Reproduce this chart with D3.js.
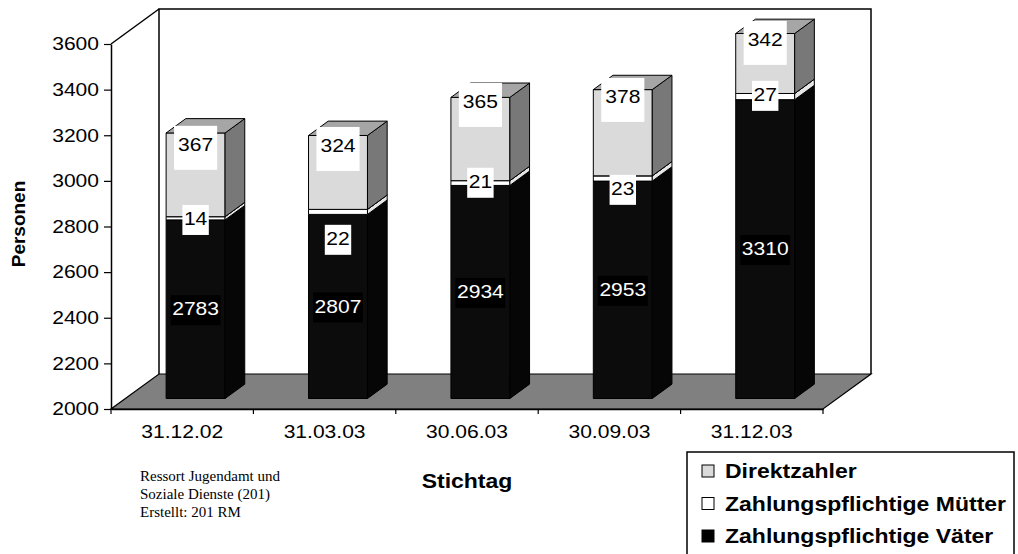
<!DOCTYPE html>
<html><head><meta charset="utf-8">
<script src="https://cdn.jsdelivr.net/npm/d3@7"></script>
<style>body{margin:0;background:#fff} svg{display:block}</style>
</head><body>
<script>
// ---- data ----
const categories = ["31.12.02","31.03.03","30.06.03","30.09.03","31.12.03"];
const vaeter   = [2783, 2807, 2934, 2953, 3310];
const muetter  = [14, 22, 21, 23, 27];
const direkt   = [367, 324, 365, 378, 342];
const yTicks   = [2000,2200,2400,2600,2800,3000,3200,3400,3600];
const seriesNames = ["Direktzahler","Zahlungspflichtige Mütter","Zahlungspflichtige Väter"];
// where Excel placed the small labels (in data units)
const muetterLabelAt = [2787, 2700, 2950, 2919, 3331];
const direktLabelAt  = [3112, 3107, 3300, 3322, 3572];
const sourceLines = ["Ressort Jugendamt und","Soziale Dienste (201)","Erstellt: 201 RM"];

// ---- layout ----
const W = 1018, H = 554;
const DX = 48, DY = -35;       // full depth offset
const D0 = 0.30, D1 = 0.71;    // bar depth range
const SX = 1.17;               // horizontal text stretch
const colors = {
  v: {front:"#0c0c0c", side:"#060606", top:"#333333"},
  m: {front:"#ffffff", side:"#e6e6e6", top:"#ffffff"},
  d: {front:"#dadada", side:"#787878", top:"#a6a6a6"}
};

const svg = d3.select("body").append("svg").attr("width", W).attr("height", H)
  .style("font-family","'Liberation Sans', Arial, sans-serif");

const x = d3.scaleBand().domain(categories).range([111, 823]).padding(0);
const y = d3.scaleLinear().domain([2000, 3600]).range([409, 44]).clamp(true);
const P = (px, v, d) => [px + d*DX, y(v) + d*DY];
const poly = pts => "M" + pts.map(p => p.join(",")).join("L") + "Z";

// back walls
const x0 = 111, x1 = 823, yb = y(2000);
svg.append("path").attr("d", poly([P(x0,2000,1),P(x1,2000,1),P(x1,3600,1),P(x0,3600,1)]))
  .attr("fill","#fff").attr("stroke","none");
svg.append("path").attr("d", "M"+P(x0,2000,1)+"L"+P(x0,3600,1)+"L"+P(x1,3600,1)+"L"+P(x1,2000,1))
  .attr("fill","none").attr("stroke","#000").attr("stroke-width",1.5);
svg.append("path").attr("d", "M"+P(x0,3600,0)+"L"+P(x0,3600,1))
  .attr("fill","none").attr("stroke","#000").attr("stroke-width",1.5);
// floor
svg.append("path").attr("d", poly([P(x0,2000,0),P(x1,2000,0),P(x1,2000,1),P(x0,2000,1)]))
  .attr("fill","#808080").attr("stroke","#000").attr("stroke-width",1.2);

// y axis
const yAxis = svg.append("g").attr("transform", `translate(${x0},0)`)
  .call(d3.axisLeft(y).tickValues(yTicks).tickFormat(d3.format("d"))
        .tickSize(7).tickSizeOuter(0).tickPadding(5));
yAxis.select(".domain").attr("stroke","#000").attr("stroke-width",1.5);
yAxis.selectAll(".tick line").attr("stroke","#000").attr("stroke-width",1.2);
yAxis.selectAll(".tick text").attr("font-size",18).attr("fill","#000")
  .attr("font-family","'Liberation Sans', Arial, sans-serif")
  .attr("x", -12/SX).attr("transform", `scale(${SX},1)`);

// x axis (labels centered, ticks on boundaries)
const xAxis = svg.append("g").attr("transform", `translate(0,${yb})`)
  .call(d3.axisBottom(x).tickSize(0).tickPadding(16));
xAxis.select(".domain").attr("stroke","#000").attr("stroke-width",1.5);
xAxis.selectAll(".tick text").attr("font-size",18).attr("fill","#000")
  .attr("font-family","'Liberation Sans', Arial, sans-serif")
  .attr("transform", `scale(${SX},1)`);
const bounds = categories.map(c => x(c)).concat([x(categories[categories.length-1]) + x.bandwidth()]);
svg.append("g").selectAll("line").data(bounds).join("line")
  .attr("x1", d => d).attr("x2", d => d).attr("y1", yb).attr("y2", yb + 5)
  .attr("stroke","#000").attr("stroke-width",1.2);

// bars
const bw = x.bandwidth() * 0.414;
function drawSeg(g, cx, v0, v1, col) {
  const a = cx - bw/2 - 1, b = cx + bw/2 - 1;
  const front = [P(a,v0,D0),P(b,v0,D0),P(b,v1,D0),P(a,v1,D0)];
  const side  = [P(b,v0,D0),P(b,v0,D1),P(b,v1,D1),P(b,v1,D0)];
  const top   = [P(a,v1,D0),P(b,v1,D0),P(b,v1,D1),P(a,v1,D1)];
  g.append("path").attr("d", poly(front)).attr("fill", col.front).attr("stroke","#000").attr("stroke-width",1);
  g.append("path").attr("d", poly(side)).attr("fill", col.side).attr("stroke","#000").attr("stroke-width",1);
  g.append("path").attr("d", poly(top)).attr("fill", col.top).attr("stroke","#000").attr("stroke-width",1);
}
const barsG = svg.append("g");
categories.forEach((c, i) => {
  const cx = x(c) + x.bandwidth()/2;
  const g = barsG.append("g");
  const v = vaeter[i], m = v + muetter[i], d = m + direkt[i];
  drawSeg(g, cx, 2000, v, colors.v);
  drawSeg(g, cx, v, m, colors.m);
  drawSeg(g, cx, m, d, colors.d);
});

// data labels
const labG = svg.append("g");
function label(cx, val, txt, kind) {
  const [px, py] = P(cx - 1, val, D0);
  const g = labG.append("g").attr("transform", `translate(${px},${py})`);
  const rect = g.append("rect");
  const t = g.append("text").text(txt).attr("font-size",18).attr("text-anchor","middle")
    .attr("dy","0.35em").attr("transform", `scale(${SX},1)`)
    .attr("fill", kind === "v" ? "#fff" : "#000");
  const L = t.node().getComputedTextLength() * SX;
  if (kind === "d") {
    rect.attr("x", -(L+8)/2).attr("y", -19).attr("width", L+8).attr("height", 44).attr("fill","#fff");
  } else {
    rect.attr("x", -(L+3)/2).attr("y", -14).attr("width", L+3).attr("height", 30)
      .attr("fill", kind === "v" ? "#000" : "#fff");
  }
}
categories.forEach((c, i) => {
  const cx = x(c) + x.bandwidth()/2;
  label(cx, 2000 + (vaeter[i]-2000)/2, String(vaeter[i]), "v");
  label(cx, muetterLabelAt[i], String(muetter[i]), "m");
  label(cx, direktLabelAt[i], String(direkt[i]), "d");
});

// axis titles
svg.append("text").text("Personen").attr("font-weight","bold").attr("font-size",19)
  .attr("text-anchor","middle")
  .attr("transform","translate(25,224) rotate(-90)");
svg.append("text").text("Stichtag").attr("font-weight","bold").attr("font-size",20)
  .attr("text-anchor","middle")
  .attr("transform",`translate(467,488) scale(1.15,1)`);

// source note
svg.append("g").selectAll("text").data(sourceLines).join("text")
  .attr("x",140).attr("y",(d,i) => 481 + i*18)
  .attr("font-family","'Liberation Serif','Times New Roman',serif").attr("font-size",15)
  .text(d => d);

// legend
const leg = svg.append("g");
leg.append("rect").attr("x",687).attr("y",452).attr("width",327).attr("height",120)
  .attr("fill","#fff").attr("stroke","#000").attr("stroke-width",1.5);
const legFill = [colors.d.front, colors.m.front, "#000"];
seriesNames.forEach((n, i) => {
  const cy = 471 + i*32.5;
  leg.append("rect").attr("x",702).attr("y",cy-6).attr("width",12).attr("height",12)
    .attr("fill",legFill[i]).attr("stroke","#000").attr("stroke-width",1);
  leg.append("text").text(n).attr("font-weight","bold").attr("font-size",20)
    .attr("dy","0.35em")
    .attr("transform",`translate(725,${cy}) scale(1.15,1)`);
});
</script>
</body></html>
